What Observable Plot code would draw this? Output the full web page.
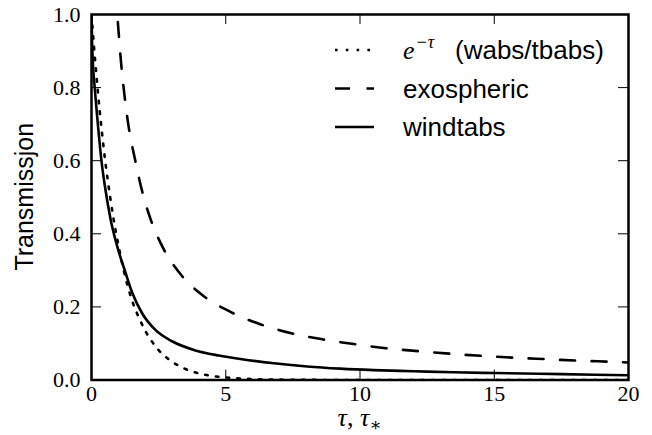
<!DOCTYPE html>
<html><head><meta charset="utf-8">
<script src="https://cdn.jsdelivr.net/npm/d3@7"></script>
<script src="https://cdn.jsdelivr.net/npm/@observablehq/plot@0.6"></script>
<style>
body{margin:0;background:#fff}
#chart{position:relative;width:652px;height:435px}
#chart g[aria-label="x-axis tick label"] text, #chart g[aria-label="y-axis tick label"] text{font-family:'Liberation Serif','DejaVu Serif',serif;font-size:22px;fill:#000}
</style>
</head><body><div id="chart"></div>
<script>
// tick labels
const xTicks = [0, 5, 10, 15, 20];
const yTicks = [0, 0.2, 0.4, 0.6, 0.8, 1.0];

// e^-tau (wabs/tbabs), dotted
const tauExp = [0, 0.1, 0.2, 0.3, 0.4, 0.5, 0.6, 0.8, 1.0, 1.2, 1.5, 1.8, 2.0, 2.5, 3.0, 3.5, 4.0, 4.5, 5, 6, 7, 8, 10, 15, 20];
const valExp = [1.0, 0.905, 0.82, 0.74, 0.67, 0.605, 0.55, 0.45, 0.37, 0.30, 0.22, 0.165, 0.135, 0.082, 0.05, 0.03, 0.018, 0.011, 0.007, 0.0025, 0.001, 0.0003, 0, 0, 0];

// exospheric, dashed
const tauExo = [0.96, 1.1, 1.33, 1.66, 1.84, 2.2, 2.64, 3.31, 4.17, 5.21, 6.31, 7.44, 8.62, 9.8, 10.97, 12.15, 13.33, 14.54, 15.73, 16.92, 18.1, 19.29, 20];
const valExo = [1.0, 0.87, 0.72, 0.59, 0.53, 0.44, 0.365, 0.29, 0.23, 0.185, 0.152, 0.128, 0.111, 0.098, 0.087, 0.079, 0.072, 0.066, 0.061, 0.057, 0.053, 0.050, 0.048];

// windtabs, solid
const tauWind = [0, 0.02, 0.05, 0.12, 0.25, 0.37, 0.5, 0.71, 0.96, 1.27, 1.51, 1.89, 2.38, 3.0, 3.87, 4.74, 5.6, 6.79, 8.03, 9.27, 10.5, 12, 13.5, 15, 17.5, 20];
const valWind = [1.0, 0.93, 0.87, 0.8, 0.69, 0.6, 0.53, 0.44, 0.365, 0.293, 0.24, 0.182, 0.137, 0.106, 0.081, 0.067, 0.057, 0.046, 0.037, 0.031, 0.027, 0.024, 0.021, 0.019, 0.016, 0.013];

const legendLabels = ["(wabs/tbabs)", "exospheric", "windtabs"];
const yLabel = "Transmissjon";

const mk = (ts, vs) => ts.map((t, i) => ({tau: t, T: vs[i]}));
const dExp = mk(tauExp, valExp), dExo = mk(tauExo, valExo), dWind = mk(tauWind, valWind);

const W = 652, H = 435, mL = 91, mR = 24, mT = 14, mB = 55.5;
const fw = W - mL - mR, fh = H - mT - mB, tl = 10;
const LW = 2.6;
const dotted = `${LW},8.2`;
const dashed = "15,16.5";
const serif = "'Liberation Serif', 'DejaVu Serif', serif";
const sans = "'Liberation Sans', Arial, sans-serif";

const chart = Plot.plot({
  width: W, height: H,
  marginLeft: mL, marginRight: mR, marginTop: mT, marginBottom: mB,
  style: {background: "#fff", color: "#000"},
  x: {domain: [0, 20]},
  y: {domain: [0, 1]},
  marks: [
    Plot.line(dExp, {x: "tau", y: "T", stroke: "black", strokeWidth: LW, strokeDasharray: dotted, curve: "monotone-x", clip: true}),
    Plot.line(dExo, {x: "tau", y: "T", stroke: "black", strokeWidth: LW, strokeDasharray: dashed, strokeDashoffset: 24, curve: "monotone-x", clip: true}),
    Plot.line(dWind, {x: "tau", y: "T", stroke: "black", strokeWidth: LW, curve: "monotone-x", clip: true}),
    Plot.tickX(xTicks, {x: d => d, insetTop: fh - tl, stroke: "black", strokeWidth: 1}),
    Plot.tickX(xTicks, {x: d => d, insetBottom: fh - tl, stroke: "black", strokeWidth: 1}),
    Plot.tickY(yTicks, {y: d => d, insetRight: fw - tl, stroke: "black", strokeWidth: 1}),
    Plot.tickY(yTicks, {y: d => d, insetLeft: fw - tl, stroke: "black", strokeWidth: 1}),
    Plot.axisX({ticks: xTicks, tickSize: 0, tickPadding: 5, label: null, tickFormat: d3.format("d"), fontSize: 22, fontFamily: serif, fill: "black"}),
    Plot.axisY({ticks: yTicks, tickSize: 0, tickPadding: 11, label: null, tickFormat: d3.format(".1f"), fontSize: 22, fontFamily: serif, fill: "black"}),
    Plot.frame({stroke: "black", strokeWidth: 2.5})
  ]
});
document.getElementById("chart").appendChild(chart);

const svg = d3.select(chart);

// y label
svg.append("text")
  .attr("transform", `translate(33,${mT + fh / 2}) rotate(-90)`)
  .attr("text-anchor", "middle")
  .attr("fill", "black")
  .style("font-family", sans).style("font-size", "25px")
  .text(yLabel);

// x label: tau, tau_*
const xl = svg.append("text")
  .attr("x", mL + fw / 2).attr("y", 426)
  .attr("text-anchor", "middle")
  .attr("fill", "black")
  .style("font-family", serif).style("font-style", "italic").style("font-size", "26px");
xl.append("tspan").text("τ");
xl.append("tspan").style("font-style", "normal").text(", ");
xl.append("tspan").text("τ");
xl.append("tspan").attr("dy", "5").style("font-style", "normal").style("font-size", "18px").text("∗");

// legend
const rowsY = [50, 88.5, 127];
const lx0 = 335, lx1 = 374, tx = 403;
const styles = [dotted, dashed, null];
const lg = svg.append("g").attr("text-anchor", "start");
rowsY.forEach((yy, i) => {
  const ln = lg.append("line").attr("x1", lx0).attr("x2", lx1).attr("y1", yy).attr("y2", yy)
    .attr("stroke", "black").attr("stroke-width", LW);
  if (styles[i]) ln.attr("stroke-dasharray", styles[i]);
  const t = lg.append("text").attr("x", tx).attr("y", yy + 9).attr("text-anchor", "start").attr("fill", "black")
    .style("font-family", sans).style("font-size", "26px");
  if (i === 0) {
    t.append("tspan").style("font-family", serif).style("font-style", "italic").text("e");
    t.append("tspan").attr("dy", -11).attr("dx", 1).style("font-family", serif).style("font-style", "italic").style("font-size", "18px").text("−τ");
    t.append("tspan").attr("dy", 11).attr("x", 455).text(legendLabels[0]);
  } else {
    t.text(legendLabels[i]);
  }
});
</script></body></html>
